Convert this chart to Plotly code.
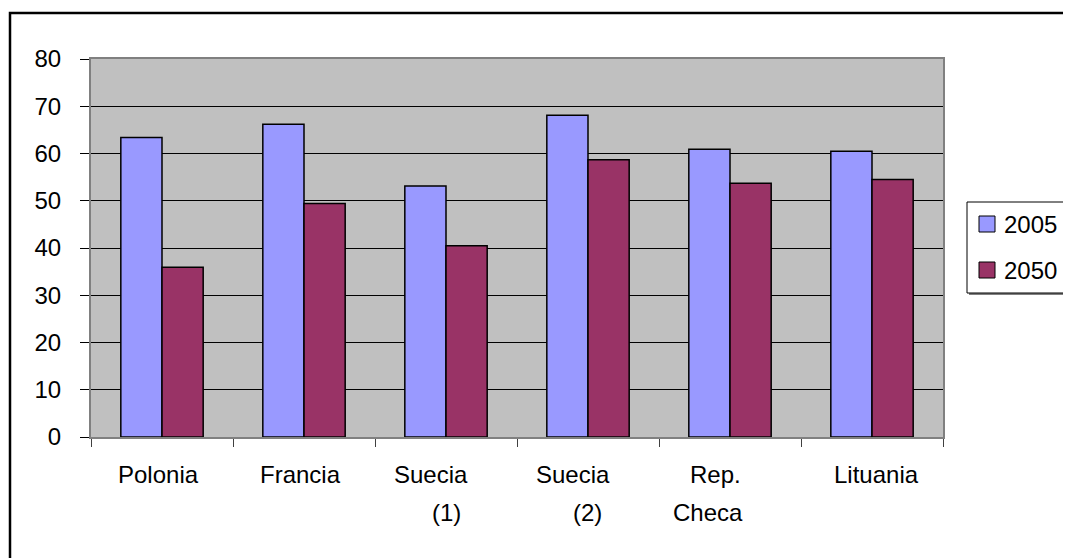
import plotly.graph_objects as go

categories = ["Polonia", "Francia", "Suecia (1)", "Suecia (2)", "Rep. Checa", "Lituania"]
label_top = ["Polonia", "Francia", "Suecia", "Suecia", "Rep.", "Lituania"]
label_bottom = ["", "", "(1)", "(2)", "Checa", ""]
series_names = ["2005", "2050"]
values_2005 = [63.4, 66.2, 53.1, 68.1, 60.9, 60.5]
values_2050 = [35.9, 49.4, 40.5, 58.7, 53.7, 54.5]
y_ticks = [0, 10, 20, 30, 40, 50, 60, 70, 80]

colors = ["#9999FF", "#993366"]

# pixel offsets of label lines relative to category centre (layout only)
top_shift = [-4, -4, -15, -15, -15, 4]
bottom_shift = [0, 0, 0, -1, -22, 0]

FONT = "Liberation Sans, Arial, sans-serif"
FS = 24

fig = go.Figure()
for name, vals, col in zip(series_names, [values_2005, values_2050], colors):
    fig.add_trace(go.Bar(name=name, x=categories, y=vals, showlegend=False,
                         marker=dict(color=col, line=dict(color="black", width=1.5))))

OFF = 8  # page body margin
W, H = 1071 - OFF, 558 - OFF
L, T = 91 - OFF, 59 - OFF
pw, ph = 852, 378
R, B = W - L - pw, H - T - ph

def px_x(p):
    return (p - OFF - L) / pw

def px_y(p):
    return (T + ph - (p - OFF)) / ph

annotations = []
for i, c in enumerate(categories):
    annotations.append(dict(x=c, xref="x", y=0, yref="paper", yanchor="middle",
                            yshift=-37, xshift=top_shift[i], text=label_top[i],
                            showarrow=False, font=dict(family=FONT, size=FS, color="black")))
    if label_bottom[i]:
        annotations.append(dict(x=c, xref="x", y=0, yref="paper", yanchor="middle",
                                yshift=-75, xshift=bottom_shift[i], text=label_bottom[i],
                                showarrow=False, font=dict(family=FONT, size=FS, color="black")))

shapes = []
# legend shadow and box
shapes.append(dict(type="rect", xref="paper", yref="paper",
                   x0=px_x(969), x1=px_x(1071), y0=px_y(295), y1=px_y(204),
                   line=dict(width=0), fillcolor="#808080", layer="above"))
shapes.append(dict(type="rect", xref="paper", yref="paper",
                   x0=px_x(967), x1=px_x(1069.5), y0=px_y(293), y1=px_y(202),
                   line=dict(color="black", width=1), fillcolor="white", layer="above"))
legend_y = [224, 270]
for name, col, ly in zip(series_names, colors, legend_y):
    shapes.append(dict(type="rect", xref="paper", yref="paper",
                       x0=px_x(979), x1=px_x(995), y0=px_y(ly + 8), y1=px_y(ly - 8),
                       line=dict(color="black", width=1), fillcolor=col, layer="above"))
    annotations.append(dict(x=px_x(1002), xref="paper", y=px_y(ly), yref="paper",
                            xanchor="left", yanchor="middle", text=name, showarrow=False,
                            font=dict(family=FONT, size=FS, color="black")))
# outer chart frame (continues past the right and bottom edges)
shapes.append(dict(type="rect", xref="paper", yref="paper",
                   x0=px_x(10), x1=px_x(1090), y0=px_y(580), y1=px_y(13),
                   line=dict(color="black", width=2.5), fillcolor="rgba(0,0,0,0)",
                   layer="above"))

fig.update_layout(
    width=W, height=H,
    margin=dict(l=L, r=R, t=T, b=B, pad=0),
    paper_bgcolor="white",
    plot_bgcolor="#C0C0C0",
    barmode="group",
    bargap=0.42,
    bargroupgap=0,
    font=dict(family=FONT, size=FS, color="black"),
    showlegend=False,
    xaxis=dict(type="category", showticklabels=False, tickson="boundaries",
               ticks="outside", ticklen=8, tickcolor="#404040",
               showline=True, linecolor="#808080", linewidth=2, mirror=True,
               showgrid=False, fixedrange=True),
    yaxis=dict(range=[0, 80], tickvals=y_ticks, ticks="outside", ticklen=9,
               tickcolor="black", showgrid=True, gridcolor="black", gridwidth=1,
               zeroline=False, showline=True, linecolor="#808080", linewidth=2,
               mirror=True, ticklabelstandoff=14,
               tickfont=dict(family=FONT, size=FS, color="black"), fixedrange=True),
    annotations=annotations,
    shapes=shapes,
)

fig.write_html("out.html")
